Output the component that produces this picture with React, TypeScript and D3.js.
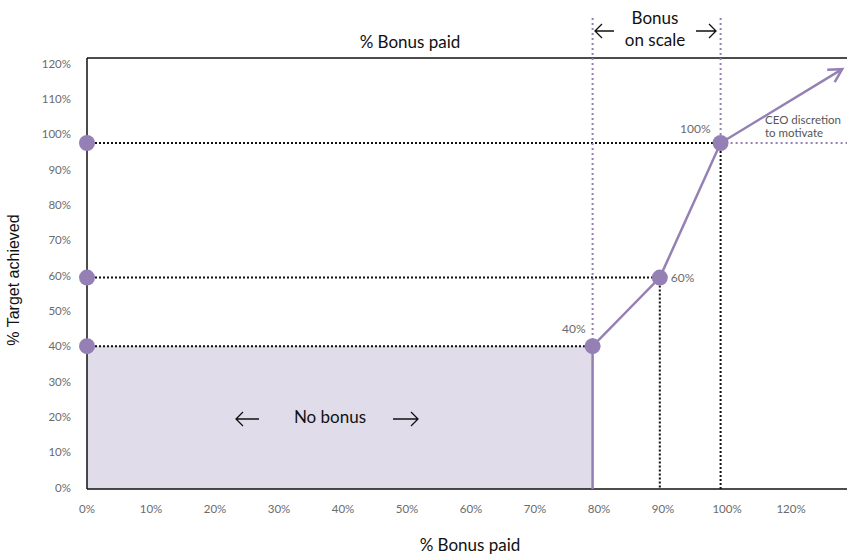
import React from "react";
import * as d3 from "d3";

// values
const xTickValues = [0, 10, 20, 30, 40, 50, 60, 70, 80, 90, 100, 110];
const xTickLabels = ["0%", "10%", "20%", "30%", "40%", "50%", "60%", "70%", "80%", "90%", "100%", "120%"];
const yTickValues = [0, 10, 20, 30, 40, 50, 60, 70, 80, 90, 100, 110, 120];
const yTickLabels = ["0%", "10%", "20%", "30%", "40%", "50%", "60%", "70%", "80%", "90%", "100%", "110%", "120%"];

// bonus curve points (x = % bonus paid, y = % target achieved)
const bonusPaid = [79, 89.5, 99];
const targetAchieved = [40, 59.4, 97.5];
const pointLabels = ["40%", "60%", "100%"];
const discretionEnd = [118, 118.4];

const W = 847;
const H = 557;
const purple = "#9580b5";
const fill = "#e0dcea";
const tickGray = "#6b6b6b";
const font = "Lato, 'Open Sans', sans-serif";

// thin open-headed arrow used beside the annotations
const Arrow = ({ from, to, y }: { from: number; to: number; y: number }) => {
  const dir = to > from ? 1 : -1;
  const h = 7;
  return (
    <path
      d={`M${from},${y}H${to}M${to - dir * h},${y - h}L${to},${y}L${to - dir * h},${y + h}`}
      fill="none"
      stroke="#111"
      strokeWidth={1.3}
    />
  );
};

const App = () => {
  const x = d3.scaleLinear().domain([0, 110]).range([87, 791]);
  const y = d3.scaleLinear().domain([0, 120]).range([487.5, 63.5]);
  const frameTop = 58;
  const frameBottom = 489;

  const pts: [number, number][] = bonusPaid.map((b, i) => [x(b), y(targetAchieved[i])]);
  const curve = d3.line()([[x(bonusPaid[0]), frameBottom], ...pts, [x(discretionEnd[0]), y(discretionEnd[1])]]);

  // open arrow head at end of curve
  const tip = [x(discretionEnd[0]), y(discretionEnd[1])];
  const last = pts[pts.length - 1];
  const ang = Math.atan2(tip[1] - last[1], tip[0] - last[0]);
  const head = 15;
  const a1 = [tip[0] - head * Math.cos(ang - 0.5), tip[1] - head * Math.sin(ang - 0.5)];
  const a2 = [tip[0] - head * Math.cos(ang + 0.5), tip[1] - head * Math.sin(ang + 0.5)];

  const blackDot = { stroke: "#111", strokeWidth: 2, strokeDasharray: "2 2", fill: "none" };
  const purpleDot = { stroke: purple, strokeWidth: 2, strokeDasharray: "2 3", fill: "none" };

  return (
    <svg width={W} height={H} style={{ position: "absolute", left: 0, top: 0, fontFamily: font }}>
      {/* no bonus area */}
      <rect x={x(0)} y={y(targetAchieved[0])} width={x(bonusPaid[0]) - x(0)} height={frameBottom - y(targetAchieved[0])} fill={fill} />

      {/* frame */}
      <line x1={x(0)} x2={W} y1={frameTop} y2={frameTop} stroke="#111" strokeWidth={1.5} />
      <line x1={x(0)} x2={W} y1={frameBottom} y2={frameBottom} stroke="#111" strokeWidth={1.5} />
      <line x1={x(0)} x2={x(0)} y1={frameTop} y2={frameBottom} stroke="#111" strokeWidth={1.5} />

      {/* guide lines */}
      {pts.map((p, i) => (
        <line key={"h" + i} x1={x(0)} x2={p[0]} y1={p[1]} y2={p[1]} style={blackDot} />
      ))}
      {pts.slice(1).map((p, i) => (
        <line key={"v" + i} x1={p[0]} x2={p[0]} y1={p[1]} y2={frameBottom} style={blackDot} />
      ))}
      <line x1={pts[0][0]} x2={pts[0][0]} y1={18} y2={pts[0][1]} style={purpleDot} />
      <line x1={pts[2][0]} x2={pts[2][0]} y1={18} y2={pts[2][1]} style={purpleDot} />
      <line x1={pts[2][0]} x2={W} y1={pts[2][1]} y2={pts[2][1]} style={purpleDot} />

      {/* curve */}
      <path d={curve || ""} fill="none" stroke={purple} strokeWidth={2.5} />
      <polyline points={`${a1[0]},${a1[1]} ${tip[0]},${tip[1]} ${a2[0]},${a2[1]}`} fill="none" stroke={purple} strokeWidth={2.5} />

      {/* points */}
      {pts.map((p, i) => (
        <g key={"p" + i}>
          <circle cx={p[0]} cy={p[1]} r={8} fill={purple} />
          <circle cx={x(0)} cy={p[1]} r={8} fill={purple} />
        </g>
      ))}
      <text x={pts[0][0] - 7} y={pts[0][1] - 13} textAnchor="end" fontSize={12} fill={tickGray}>{pointLabels[0]}</text>
      <text x={pts[1][0] + 11} y={pts[1][1] + 4} textAnchor="start" fontSize={12} fill={tickGray}>{pointLabels[1]}</text>
      <text x={pts[2][0] - 10} y={pts[2][1] - 10} textAnchor="end" fontSize={12} fill={tickGray}>{pointLabels[2]}</text>

      {/* axes labels */}
      {yTickValues.map((v, i) => (
        <text key={"yt" + i} x={71} y={y(v) + 4} textAnchor="end" fontSize={11.5} fill={tickGray}>{yTickLabels[i]}</text>
      ))}
      {xTickValues.map((v, i) => (
        <text key={"xt" + i} x={x(v)} y={513} textAnchor="middle" fontSize={11.5} fill={tickGray}>{xTickLabels[i]}</text>
      ))}

      <text transform="translate(19,280) rotate(-90)" textAnchor="middle" fontSize={16} fill="#111" fontFamily="'Liberation Sans', Arial, sans-serif">% Target achieved</text>
      <text x={470} y={551} textAnchor="middle" fontSize={17} fill="#111">% Bonus paid</text>
      <text x={410} y={48} textAnchor="middle" fontSize={17} fill="#111">% Bonus paid</text>

      {/* annotations */}
      <text x={655} y={24} textAnchor="middle" fontSize={17} fill="#111">Bonus</text>
      <text x={655} y={46} textAnchor="middle" fontSize={17} fill="#111">on scale</text>
      <Arrow from={614} to={595} y={31} />
      <Arrow from={696} to={716} y={31} />

      <text x={330} y={423} textAnchor="middle" fontSize={17} fill="#111">No bonus</text>
      <Arrow from={259} to={236} y={419} />
      <Arrow from={393} to={418} y={419} />

      <text x={765} y={124} fontSize={11.5} fill="#555">CEO discretion</text>
      <text x={765} y={137} fontSize={11.5} fill="#555">to motivate</text>
    </svg>
  );
};

export default App;
